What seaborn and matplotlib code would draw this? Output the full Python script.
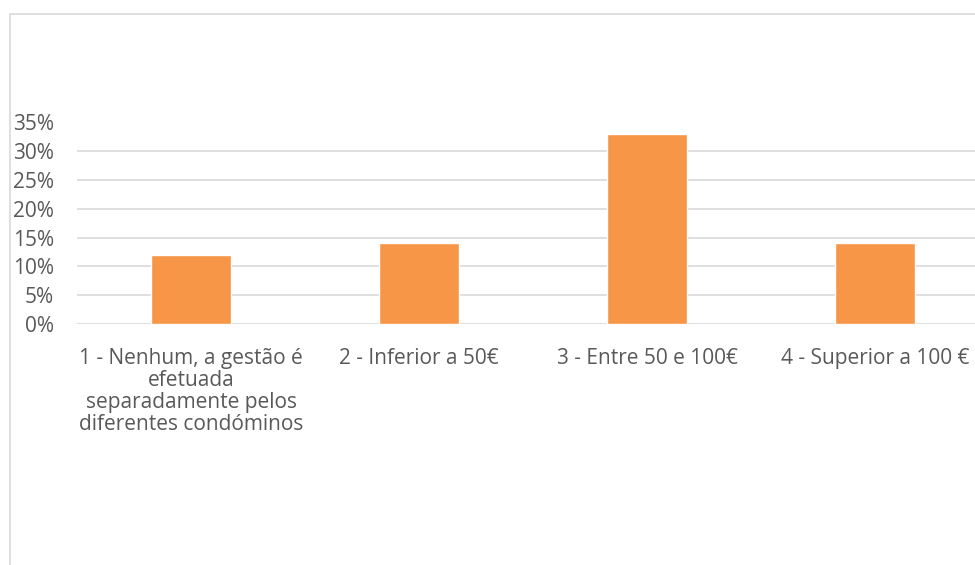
import matplotlib
matplotlib.use("Agg")
import matplotlib.pyplot as plt
import matplotlib.patches as mpatches
from matplotlib.ticker import PercentFormatter, MultipleLocator
import seaborn as sns
import pandas as pd

categories = [
    "1 - Nenhum, a gestão é\nefetuada\nseparadamente pelos\ndiferentes condóminos",
    "2 - Inferior a 50€",
    "3 - Entre 50 e 100€",
    "4 - Superior a 100 €",
]
values = [0.12, 0.14, 0.33, 0.14]

df = pd.DataFrame({"cat": categories, "val": values})

sns.set_style("white")
plt.rcParams["font.family"] = ["Open Sans", "DejaVu Sans"]

W, H = 975, 565
fig = plt.figure(figsize=(W / 100, H / 100), dpi=100)

# chart border
fig.patches.append(mpatches.Rectangle((10 / W, -0.1), 1.2, 1 - 14 / H + 0.1,
                                      transform=fig.transFigure, fill=False,
                                      edgecolor="#D9D9D9", linewidth=1.2))

left, right = 77 / W, 989 / W
bottom, top = 1 - 324 / H, 1 - 122.5 / H
ax = fig.add_axes([left, bottom, right - left, top - bottom])

sns.barplot(data=df, x="cat", y="val", color="#F79646", width=0.355,
            saturation=1, ax=ax, zorder=3)
ax.set_xlim(-0.5, 3.5)
ax.set_ylim(0, 0.35)
ax.yaxis.set_major_locator(MultipleLocator(0.05))
ax.yaxis.set_major_formatter(PercentFormatter(1.0, decimals=0))
ax.grid(axis="y", color="#D9D9D9", linewidth=1.2, zorder=0)
ax.set_axisbelow(True)
for s in ax.spines.values():
    s.set_visible(False)
ax.set_xlabel("")
ax.set_ylabel("")
ax.tick_params(axis="both", length=0, labelsize=15, colors="#595959")
ax.tick_params(axis="y", pad=16.5)
ax.tick_params(axis="x", pad=17)
for lbl in ax.get_xticklabels():
    lbl.set_linespacing(1.08)

fig.savefig("out.png", dpi=100)
